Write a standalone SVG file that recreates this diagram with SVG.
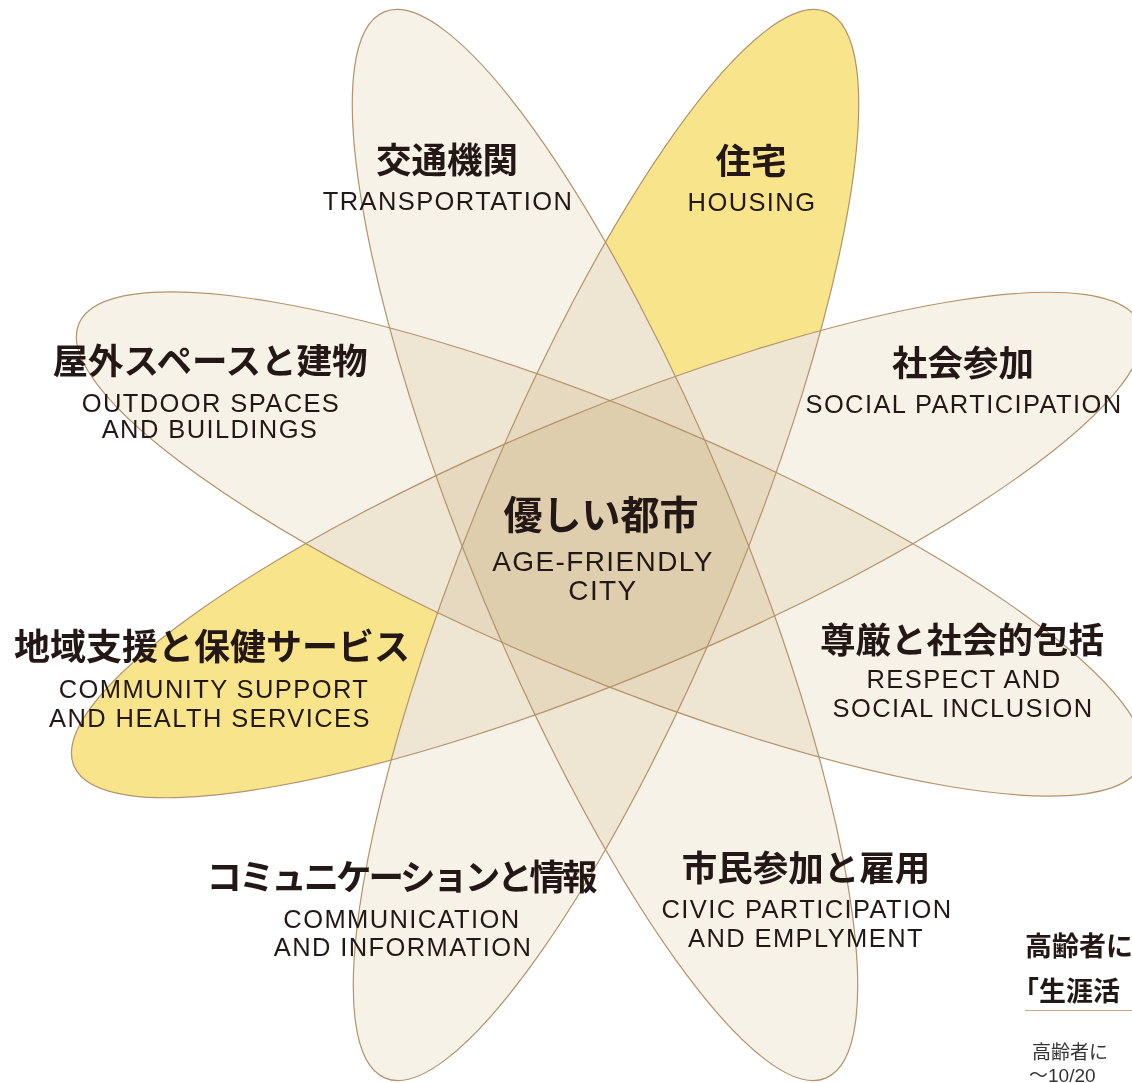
<svg xmlns="http://www.w3.org/2000/svg" xmlns:xlink="http://www.w3.org/1999/xlink" width="1132" height="1083" viewBox="0 0 1132 1083">
<style>
.petal{fill:#f7f2e8;mix-blend-mode:multiply}
.edge{fill:none;stroke:#b3936a;stroke-width:1.2}
.jp{font-family:"Noto Sans CJK JP","Noto Sans CJK SC",sans-serif;font-weight:700;font-size:35.5px;fill:#231815;text-anchor:middle}
.en{font-family:"Liberation Sans",Arial,sans-serif;font-size:25.5px;letter-spacing:1.4px;fill:#231815;text-anchor:middle}
.note{font-family:"Noto Sans CJK JP","Noto Sans CJK SC",sans-serif;fill:#231815}
.small{font-family:"Liberation Sans","Noto Sans CJK JP","Noto Sans CJK SC",sans-serif;fill:#333;font-size:19px}
</style>
<defs>
<ellipse id="eA" cx="0" cy="0" rx="577" ry="133" transform="translate(605,545) rotate(67.5)"/>
<ellipse id="eB" cx="0" cy="0" rx="577" ry="133" transform="translate(606,545) rotate(-67.5)"/>
<ellipse id="eC" cx="0" cy="0" rx="575" ry="133" transform="translate(610,544) rotate(22.5)"/>
<ellipse id="eD" cx="0" cy="0" rx="577" ry="133" transform="translate(607,545) rotate(-22.5)"/>
<mask id="mHousing" maskUnits="userSpaceOnUse" x="0" y="0" width="1132" height="1083">
<rect x="0" y="0" width="1132" height="1083" fill="#000"/>
<use xlink:href="#eB" fill="#fff"/>
<use xlink:href="#eA" fill="#000"/>
<use xlink:href="#eC" fill="#000"/>
<use xlink:href="#eD" fill="#000"/>
<rect x="0" y="545" width="1132" height="538" fill="#000"/>
</mask>
<mask id="mCommunity" maskUnits="userSpaceOnUse" x="0" y="0" width="1132" height="1083">
<rect x="0" y="0" width="1132" height="1083" fill="#000"/>
<use xlink:href="#eD" fill="#fff"/>
<use xlink:href="#eA" fill="#000"/>
<use xlink:href="#eB" fill="#000"/>
<use xlink:href="#eC" fill="#000"/>
<rect x="600" y="0" width="532" height="1083" fill="#000"/>
</mask>
</defs>
<rect x="0" y="0" width="1132" height="1083" fill="#fff"/>
<g id="petals" style="isolation:isolate">
<use xlink:href="#eA" class="petal"/>
<use xlink:href="#eB" class="petal"/>
<use xlink:href="#eC" class="petal"/>
<use xlink:href="#eD" class="petal"/>
</g>
<g id="highlights">
<rect x="0" y="0" width="1132" height="1083" fill="#f8e48b" mask="url(#mHousing)"/>
<rect x="0" y="0" width="1132" height="1083" fill="#f8e48b" mask="url(#mCommunity)"/>
</g>
<g id="connectors">
<use xlink:href="#eA" class="edge"/>
<use xlink:href="#eB" class="edge"/>
<use xlink:href="#eC" class="edge"/>
<use xlink:href="#eD" class="edge"/>
</g>
<g id="n-transportation">
<text class="jp" x="447" y="173">交通機関</text>
<text class="en" x="448" y="210">TRANSPORTATION</text>
</g>
<g id="n-housing">
<text class="jp" x="751" y="174">住宅</text>
<text class="en" x="752" y="211">HOUSING</text>
</g>
<g id="n-outdoor">
<text class="jp" x="210" y="374">屋外スペースと建物</text>
<text class="en" x="211" y="412">OUTDOOR SPACES</text>
<text class="en" x="210" y="438">AND BUILDINGS</text>
</g>
<g id="n-social">
<text class="jp" x="963" y="376">社会参加</text>
<text class="en" x="964" y="413">SOCIAL PARTICIPATION</text>
</g>
<g id="n-center">
<text class="jp" x="601" y="529" style="font-size:39px">優しい都市</text>
<text class="en" x="603" y="571" style="font-size:28px">AGE-FRIENDLY</text>
<text class="en" x="603" y="600" style="font-size:28px">CITY</text>
</g>
<g id="n-community">
<text class="jp" x="212" y="660" style="font-size:36px">地域支援と保健サービス</text>
<text class="en" x="214" y="698">COMMUNITY SUPPORT</text>
<text class="en" x="210" y="727">AND HEALTH SERVICES</text>
</g>
<g id="n-respect">
<text class="jp" x="962" y="653">尊厳と社会的包括</text>
<text class="en" x="964" y="688">RESPECT AND</text>
<text class="en" x="963" y="717">SOCIAL INCLUSION</text>
</g>
<g id="n-communication">
<text class="jp" x="402" y="890" textLength="391" lengthAdjust="spacing">コミュニケーションと情報</text>
<text class="en" x="402" y="928">COMMUNICATION</text>
<text class="en" x="403" y="956">AND INFORMATION</text>
</g>
<g id="n-civic">
<text class="jp" x="806" y="881">市民参加と雇用</text>
<text class="en" x="807" y="918">CIVIC PARTICIPATION</text>
<text class="en" x="806" y="947">AND EMPLYMENT</text>
</g>
<g id="n-note">
<text class="note" x="1025" y="956" style="font-size:27px;font-weight:700">高齢者に</text>
<text class="note" x="1012" y="1001" style="font-size:27px;font-weight:700">「生涯活</text>
<line x1="1025" y1="1010.5" x2="1132" y2="1010.5" stroke="#c9ad7c" stroke-width="1"/>
<text class="small" x="1032" y="1059">高齢者に</text>
<text class="small" x="1029" y="1082">～10/20</text>
</g>
</svg>
